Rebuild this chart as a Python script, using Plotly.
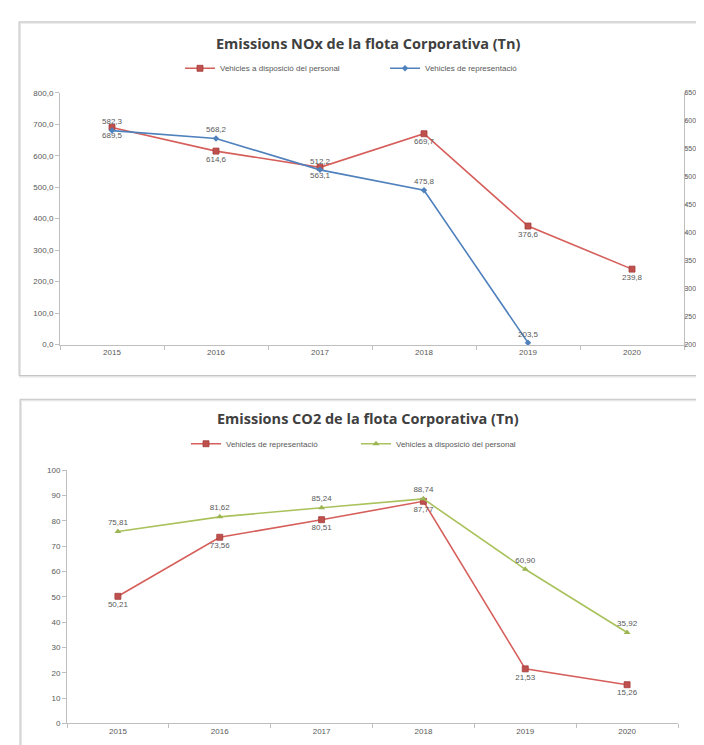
import plotly.graph_objects as go

# ---------------- data ----------------
years = ["2015", "2016", "2017", "2018", "2019", "2020"]

nox_personal = [689.5, 614.6, 563.1, 669.7, 376.6, 239.8]          # left axis
nox_representacio = [582.3, 568.2, 512.2, 475.8, 203.5, None]      # right axis

co2_representacio = [50.21, 73.56, 80.51, 87.77, 21.53, 15.26]
co2_personal = [75.81, 81.62, 85.24, 88.74, 60.90, 35.92]

title_nox = "Emissions NOx de la flota Corporativa (Tn)"
title_co2 = "Emissions CO2 de la flota Corporativa (Tn)"
name_personal = "Vehicles a disposició del personal"
name_repr = "Vehicles de representació"


def fmt(vals, d):
    return ["" if v is None else f"{v:.{d}f}".replace(".", ",") for v in vals]


W, H = 704, 745


def px_x(x):
    return x / W


def px_y(y):
    return 1 - y / H


RED = "#C0504D"
RED_LINE = "#D65F5B"
BLUE = "#4F81BD"
GREEN = "#A9C25C"
GREEN_MK = "#9BB552"
AXIS = "#BFBFBF"
TXT = "#595959"
FAM = "Liberation Sans, Arial, sans-serif"
SMALL = dict(size=8, color=TXT, family=FAM)
LEG = dict(size=8, color=TXT, family=FAM)

fig = go.Figure()

# top chart
fig.add_trace(go.Scatter(
    x=years, y=nox_personal, name=name_personal,
    mode="lines+markers+text", text=fmt(nox_personal, 1),
    textposition="bottom center", textfont=SMALL,
    line=dict(color=RED_LINE, width=1.6),
    marker=dict(symbol="square", size=6, color=RED, line=dict(color="#A33F3C", width=0.8)),
    xaxis="x", yaxis="y", legend="legend", cliponaxis=False,
))
fig.add_trace(go.Scatter(
    x=years, y=nox_representacio, name=name_repr,
    mode="lines+markers+text", text=fmt(nox_representacio, 1),
    textposition="top center", textfont=SMALL,
    line=dict(color=BLUE, width=1.6),
    marker=dict(symbol="diamond", size=5, color=BLUE),
    xaxis="x", yaxis="y2", legend="legend", cliponaxis=False,
))

# bottom chart
fig.add_trace(go.Scatter(
    x=years, y=co2_representacio, name=name_repr,
    mode="lines+markers+text", text=fmt(co2_representacio, 2),
    textposition="bottom center", textfont=SMALL,
    line=dict(color=RED_LINE, width=1.6),
    marker=dict(symbol="square", size=6, color=RED, line=dict(color="#A33F3C", width=0.8)),
    xaxis="x2", yaxis="y3", legend="legend2", cliponaxis=False,
))
fig.add_trace(go.Scatter(
    x=years, y=co2_personal, name=name_personal,
    mode="lines+markers+text", text=fmt(co2_personal, 2),
    textposition="top center", textfont=SMALL,
    line=dict(color=GREEN, width=1.6),
    marker=dict(symbol="triangle-up", size=6, color=GREEN_MK),
    xaxis="x2", yaxis="y3", legend="legend2", cliponaxis=False,
))

common_x = dict(type="category", range=[-0.5, 5.5], tickson="boundaries",
                ticks="outside", ticklen=4, tickcolor=AXIS, showline=True,
                linecolor=AXIS, linewidth=1, showgrid=False, zeroline=False,
                tickfont=SMALL, fixedrange=True)
common_y = dict(showline=True, linecolor=AXIS, linewidth=1, ticks="outside",
                tickcolor=AXIS, showgrid=False, zeroline=False,
                fixedrange=True)

fig.update_layout(
    width=W, height=H,
    margin=dict(l=0, r=0, t=0, b=0),
    paper_bgcolor="white", plot_bgcolor="white",
    separators=", ",
    xaxis=dict(domain=[px_x(52), px_x(676)], anchor="y", **common_x),
    yaxis=dict(domain=[px_y(336.7), px_y(81.7)], anchor="x", range=[0, 800],
               dtick=100, tickformat=".1f", ticklen=4, tickfont=SMALL, **common_y),
    yaxis2=dict(overlaying="y", side="right", anchor="x", range=[200, 650],
                dtick=50, tickformat=".1f", ticklen=2, ticklabelstandoff=-4,
                tickfont=dict(size=7, color=TXT, family=FAM), **common_y),
    xaxis2=dict(domain=[px_x(59), px_x(670)], anchor="y3", **common_x),
    yaxis3=dict(domain=[px_y(720), px_y(464)], anchor="x2", range=[0, 100],
                dtick=10, tickformat="d", ticklen=4, tickfont=SMALL, **common_y),
    legend=dict(orientation="h", x=px_x(172), y=px_y(57), xanchor="left",
                yanchor="middle", font=LEG, entrywidth=160,
                bgcolor="rgba(0,0,0,0)", itemwidth=30),
    legend2=dict(orientation="h", x=px_x(178), y=px_y(437), xanchor="left",
                 yanchor="middle", font=LEG, entrywidth=125,
                 bgcolor="rgba(0,0,0,0)", itemwidth=30),
    annotations=[
        dict(text=f"<b>{title_nox}</b>", x=px_x(360), y=px_y(32), xref="paper",
             yref="paper", showarrow=False, xanchor="center", yanchor="middle",
             font=dict(size=14.5, color="#404040", family="Open Sans, sans-serif")),
        dict(text=f"<b>{title_co2}</b>", x=px_x(360), y=px_y(411), xref="paper",
             yref="paper", showarrow=False, xanchor="center", yanchor="middle",
             font=dict(size=14.5, color="#404040", family="Open Sans, sans-serif")),
    ],
    shapes=[
        dict(type="rect", xref="paper", yref="paper", x0=px_x(12), x1=px_x(705),
             y0=px_y(369), y1=px_y(11), line=dict(color="#E6E6E6", width=2)),
        dict(type="rect", xref="paper", yref="paper", x0=px_x(11), x1=px_x(704),
             y0=px_y(368), y1=px_y(10), line=dict(color="#C4C4C4", width=1)),
        dict(type="rect", xref="paper", yref="paper", x0=px_x(13), x1=px_x(705),
             y0=px_y(746), y1=px_y(393), line=dict(color="#E6E6E6", width=2)),
        dict(type="rect", xref="paper", yref="paper", x0=px_x(12), x1=px_x(703),
             y0=px_y(745), y1=px_y(392), line=dict(color="#C4C4C4", width=1)),
    ],
)

fig.write_html("out.html")
